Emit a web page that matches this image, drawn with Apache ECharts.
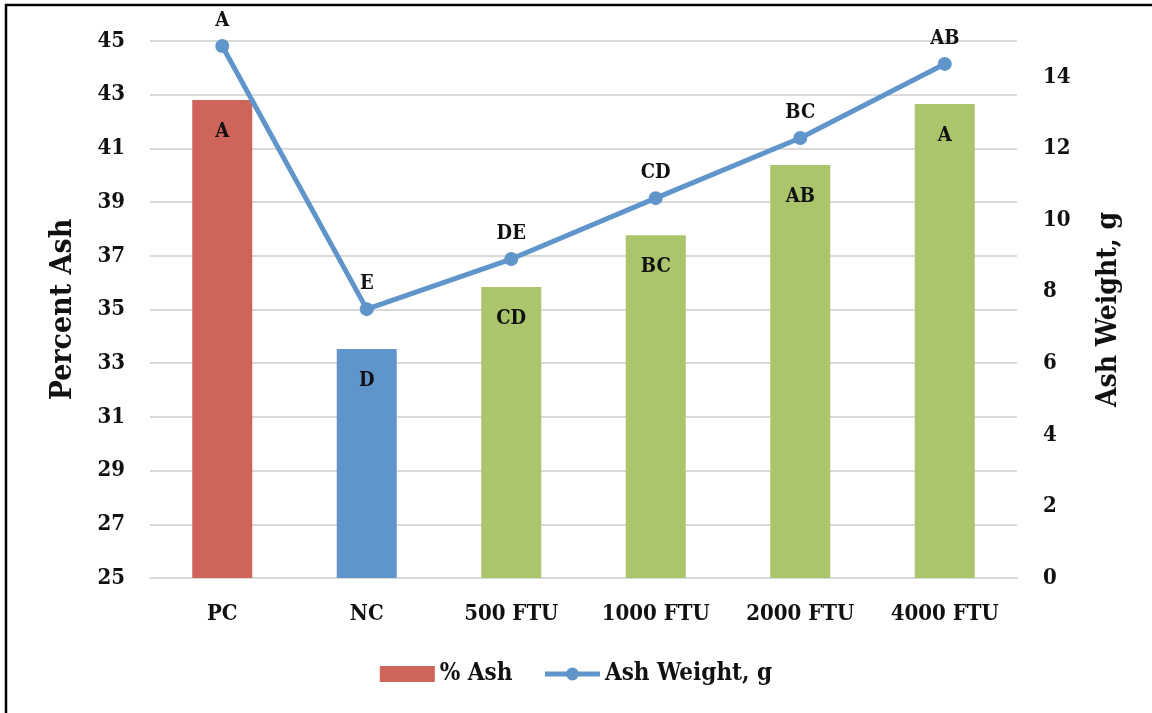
<!DOCTYPE html>
<html><head><meta charset="utf-8">
<script src="https://cdn.jsdelivr.net/npm/echarts@6/dist/echarts.min.js"></script>
<style>html,body{margin:0;padding:0;background:#fff}#c{width:1152px;height:713px}</style>
</head><body><div id="c"></div>
<script>
const categories = ['PC', 'NC', '500 FTU', '1000 FTU', '2000 FTU', '4000 FTU'];
const percentAsh = [42.8, 33.53, 35.84, 37.77, 40.38, 42.65];
const percentAshLetters = ['A', 'D', 'CD', 'BC', 'AB', 'A'];
const ashWeight = [14.86, 7.51, 8.91, 10.61, 12.29, 14.36];
const ashWeightLetters = ['A', 'E', 'DE', 'CD', 'BC', 'AB'];
const barColors = ['#CF645B', '#6095CB', '#AAC56B', '#AAC56B', '#AAC56B', '#AAC56B'];

const FONT = '"DejaVu Serif Condensed", "DejaVu Serif", serif';
const chart = echarts.init(document.getElementById('c'), null, {renderer: 'canvas'});
chart.setOption({
  animation: false,
  backgroundColor: '#fff',
  textStyle: {fontFamily: FONT, fontWeight: 'bold', color: '#111'},
  graphic: [{
    type: 'rect', shape: {x: 6, y: 5, width: 1300, height: 900},
    style: {fill: 'none', stroke: '#000', lineWidth: 2.5}, silent: true
  }],
  grid: {left: 150, right: 135, top: 41, bottom: 135},
  legend: {
    bottom: 22, left: 'center', itemWidth: 55, itemHeight: 16, itemGap: 30,
    textStyle: {fontFamily: FONT, fontWeight: 'bold', fontSize: 24, color: '#111'},
    data: [
      {name: '% Ash', icon: 'rect', itemStyle: {color: barColors[0]}},
      {name: 'Ash Weight, g', lineStyle: {width: 5, color: '#6095CB'}}
    ]
  },
  xAxis: {
    type: 'category', data: categories,
    axisLine: {lineStyle: {color: '#D9D9D9', width: 2}},
    axisTick: {show: false},
    axisLabel: {fontFamily: FONT, fontWeight: 'bold', fontSize: 22, color: '#111', margin: 25}
  },
  yAxis: [{
    type: 'value', min: 25, max: 45, interval: 2,
    name: 'Percent Ash', nameLocation: 'middle', nameGap: 72,
    nameTextStyle: {fontFamily: FONT, fontWeight: 'bold', fontSize: 30, color: '#111'},
    axisLine: {show: false}, axisTick: {show: false},
    axisLabel: {fontFamily: FONT, fontWeight: 'bold', fontSize: 22, color: '#111', margin: 25},
    splitLine: {lineStyle: {color: '#D9D9D9', width: 2}}
  }, {
    type: 'value', min: 0, max: 15, interval: 2,
    name: 'Ash Weight, g', nameLocation: 'middle', nameGap: 78,
    nameTextStyle: {fontFamily: FONT, fontWeight: 'bold', fontSize: 28, color: '#111'},
    axisLine: {show: false}, axisTick: {show: false},
    axisLabel: {fontFamily: FONT, fontWeight: 'bold', fontSize: 22, color: '#111', margin: 26,
      formatter: v => (v % 2 === 0 ? String(v) : '')},
    splitLine: {show: false}
  }],
  series: [{
    name: '% Ash', type: 'bar', yAxisIndex: 0, barWidth: 60,
    itemStyle: {color: barColors[0]},
    data: percentAsh.map((v, i) => ({value: v, itemStyle: {color: barColors[i]}})),
    label: {
      show: true, position: 'insideTop', distance: 22,
      formatter: p => percentAshLetters[p.dataIndex],
      fontFamily: FONT, fontWeight: 'bold', fontSize: 20, color: '#111'
    }
  }, {
    name: 'Ash Weight, g', type: 'line', yAxisIndex: 1,
    data: ashWeight, symbol: 'circle', symbolSize: 14,
    lineStyle: {color: '#6095CB', width: 5},
    itemStyle: {color: '#6095CB'},
    label: {
      show: true, position: 'top', distance: 8,
      formatter: p => ashWeightLetters[p.dataIndex],
      fontFamily: FONT, fontWeight: 'bold', fontSize: 20, color: '#111'
    }
  }]
});
</script></body></html>
